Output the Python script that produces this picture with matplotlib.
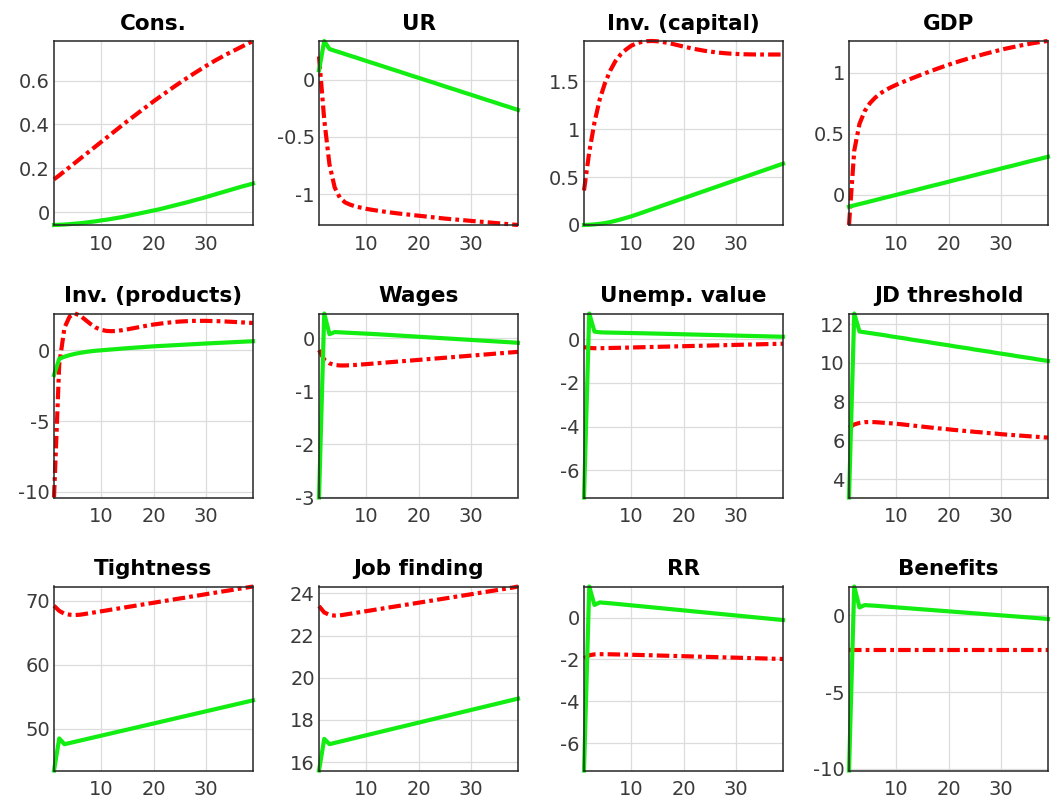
import matplotlib
matplotlib.use("Agg")
import matplotlib.pyplot as plt
from matplotlib.ticker import FixedLocator, FuncFormatter

plt.rcParams["font.family"] = ["DejaVu Sans"]
plt.rcParams["axes.unicode_minus"] = False

# horizon (quarters)
periods = list(range(1, 40))
xticks = [10, 20, 30]

titles = ["Cons.", "UR", "Inv. (capital)", "GDP",
          "Inv. (products)", "Wages", "Unemp. value", "JD threshold",
          "Tightness", "Job finding", "RR", "Benefits"]

# ---- impulse responses: red = dash-dot scenario, green = solid scenario ----
cons_red = [0.150, 0.168, 0.187, 0.206, 0.225, 0.244, 0.263, 0.282, 0.301, 0.320,
            0.339, 0.358, 0.377, 0.396, 0.415, 0.433, 0.451, 0.469, 0.487, 0.505,
            0.522, 0.539, 0.556, 0.573, 0.589, 0.605, 0.621, 0.636, 0.651, 0.666,
            0.680, 0.694, 0.707, 0.720, 0.732, 0.744, 0.756, 0.768, 0.780]
cons_green = [-0.058, -0.057, -0.056, -0.054, -0.052, -0.050, -0.047, -0.044, -0.041, -0.037,
              -0.034, -0.030, -0.026, -0.022, -0.017, -0.012, -0.007, -0.002, 0.003, 0.008,
              0.013, 0.019, 0.025, 0.031, 0.037, 0.043, 0.049, 0.056, 0.062, 0.069,
              0.076, 0.083, 0.090, 0.097, 0.104, 0.111, 0.118, 0.124, 0.131]

ur_red = [0.200, -0.350, -0.740, -0.940, -1.030, -1.070, -1.090, -1.105, -1.115, -1.125,
          -1.133, -1.140, -1.147, -1.153, -1.159, -1.165, -1.170, -1.175, -1.180, -1.185,
          -1.190, -1.195, -1.200, -1.205, -1.210, -1.214, -1.218, -1.222, -1.226, -1.230,
          -1.234, -1.238, -1.242, -1.246, -1.250, -1.254, -1.258, -1.262, -1.266]
ur_green = [0.080, 0.335, 0.265, 0.250, 0.236, 0.221, 0.206, 0.192, 0.177, 0.162,
            0.147, 0.133, 0.118, 0.103, 0.088, 0.074, 0.059, 0.044, 0.029, 0.015,
            0.000, -0.015, -0.029, -0.044, -0.059, -0.074, -0.088, -0.103, -0.118, -0.132,
            -0.147, -0.162, -0.177, -0.191, -0.206, -0.221, -0.235, -0.250, -0.265]

invk_red = [0.360, 0.760, 1.070, 1.310, 1.480, 1.610, 1.710, 1.780, 1.830, 1.870,
            1.895, 1.910, 1.918, 1.920, 1.917, 1.910, 1.900, 1.888, 1.875, 1.862,
            1.850, 1.838, 1.828, 1.818, 1.810, 1.803, 1.797, 1.792, 1.788, 1.785,
            1.783, 1.781, 1.780, 1.779, 1.779, 1.779, 1.779, 1.779, 1.779]
invk_green = [0.000, 0.002, 0.006, 0.012, 0.020, 0.031, 0.044, 0.058, 0.074, 0.090,
              0.108, 0.127, 0.146, 0.165, 0.184, 0.203, 0.222, 0.241, 0.260, 0.279,
              0.298, 0.317, 0.336, 0.355, 0.374, 0.393, 0.412, 0.431, 0.450, 0.469,
              0.488, 0.507, 0.526, 0.545, 0.564, 0.583, 0.602, 0.621, 0.640]

gdp_red = [-0.250, 0.360, 0.580, 0.685, 0.750, 0.795, 0.830, 0.858, 0.880, 0.900,
           0.918, 0.936, 0.953, 0.970, 0.987, 1.003, 1.019, 1.035, 1.050, 1.065,
           1.079, 1.093, 1.106, 1.119, 1.131, 1.143, 1.155, 1.166, 1.177, 1.188,
           1.198, 1.207, 1.216, 1.225, 1.233, 1.241, 1.248, 1.255, 1.260]
gdp_green = [-0.100, -0.089, -0.078, -0.068, -0.057, -0.046, -0.035, -0.024, -0.014, -0.003,
             0.008, 0.019, 0.029, 0.040, 0.051, 0.062, 0.073, 0.083, 0.094, 0.105,
             0.116, 0.127, 0.137, 0.148, 0.159, 0.170, 0.181, 0.191, 0.202, 0.213,
             0.224, 0.234, 0.245, 0.256, 0.267, 0.278, 0.288, 0.299, 0.310]

invp_red = [-10.40, -1.00, 1.60, 2.40, 2.60, 2.45, 2.15, 1.85, 1.60, 1.45,
            1.37, 1.35, 1.37, 1.42, 1.48, 1.55, 1.62, 1.69, 1.76, 1.82,
            1.87, 1.92, 1.96, 2.00, 2.03, 2.05, 2.07, 2.08, 2.08, 2.08,
            2.07, 2.06, 2.05, 2.03, 2.01, 1.99, 1.97, 1.95, 1.93]
invp_green = [-1.75, -0.60, -0.45, -0.34, -0.25, -0.18, -0.12, -0.07, -0.03, 0.00,
              0.03, 0.06, 0.09, 0.12, 0.15, 0.176, 0.202, 0.228, 0.254, 0.28,
              0.30, 0.32, 0.34, 0.36, 0.38, 0.40, 0.42, 0.44, 0.46, 0.48,
              0.498, 0.516, 0.534, 0.552, 0.57, 0.588, 0.606, 0.624, 0.64]

wage_red = [-0.220, -0.400, -0.470, -0.500, -0.510, -0.510, -0.505, -0.500, -0.492, -0.485,
            -0.477, -0.469, -0.461, -0.453, -0.445, -0.437, -0.429, -0.421, -0.413, -0.405,
            -0.397, -0.389, -0.381, -0.373, -0.365, -0.357, -0.349, -0.341, -0.333, -0.325,
            -0.317, -0.309, -0.301, -0.293, -0.285, -0.277, -0.269, -0.261, -0.253]
wage_green = [-3.000, 0.470, 0.080, 0.120, 0.115, 0.110, 0.105, 0.100, 0.095, 0.090,
              0.085, 0.080, 0.074, 0.068, 0.062, 0.056, 0.050, 0.044, 0.038, 0.032,
              0.026, 0.020, 0.014, 0.008, 0.002, -0.004, -0.010, -0.016, -0.022, -0.028,
              -0.034, -0.040, -0.046, -0.052, -0.058, -0.064, -0.070, -0.076, -0.082]

uval_red = [-0.360, -0.400, -0.410, -0.410, -0.405, -0.400, -0.395, -0.390, -0.384, -0.378,
            -0.372, -0.366, -0.360, -0.354, -0.348, -0.342, -0.336, -0.330, -0.324, -0.318,
            -0.312, -0.306, -0.300, -0.294, -0.288, -0.282, -0.276, -0.270, -0.264, -0.258,
            -0.252, -0.246, -0.240, -0.234, -0.228, -0.222, -0.216, -0.210, -0.204]
uval_green = [-7.250, 1.180, 0.350, 0.320, 0.310, 0.305, 0.300, 0.295, 0.290, 0.285,
              0.280, 0.275, 0.270, 0.264, 0.258, 0.252, 0.246, 0.240, 0.234, 0.228,
              0.222, 0.216, 0.210, 0.204, 0.198, 0.192, 0.186, 0.180, 0.174, 0.168,
              0.162, 0.156, 0.150, 0.144, 0.138, 0.132, 0.126, 0.120, 0.114]

jd_red = [6.65, 6.82, 6.90, 6.94, 6.95, 6.94, 6.92, 6.90, 6.88, 6.86,
          6.83, 6.80, 6.77, 6.74, 6.71, 6.68, 6.65, 6.62, 6.60, 6.57,
          6.54, 6.52, 6.49, 6.47, 6.44, 6.42, 6.39, 6.37, 6.35, 6.32,
          6.30, 6.28, 6.26, 6.24, 6.22, 6.20, 6.18, 6.16, 6.14]
jd_green = [3.05, 12.55, 11.62, 11.58, 11.54, 11.50, 11.46, 11.42, 11.37, 11.33,
            11.29, 11.25, 11.20, 11.16, 11.12, 11.08, 11.03, 10.99, 10.95, 10.91,
            10.86, 10.82, 10.78, 10.74, 10.69, 10.65, 10.61, 10.57, 10.52, 10.48,
            10.44, 10.40, 10.35, 10.31, 10.27, 10.23, 10.18, 10.14, 10.10]

tight_red = [69.20, 68.40, 67.95, 67.80, 67.75, 67.80, 67.93, 68.06, 68.20, 68.33,
             68.46, 68.60, 68.73, 68.86, 69.00, 69.13, 69.26, 69.40, 69.53, 69.66,
             69.80, 69.93, 70.06, 70.20, 70.33, 70.46, 70.60, 70.73, 70.86, 71.00,
             71.13, 71.26, 71.40, 71.53, 71.66, 71.80, 71.93, 72.06, 72.20]
tight_green = [43.50, 48.50, 47.60, 47.79, 47.98, 48.17, 48.36, 48.55, 48.74, 48.93,
               49.12, 49.31, 49.50, 49.69, 49.88, 50.07, 50.26, 50.45, 50.64, 50.83,
               51.02, 51.21, 51.40, 51.59, 51.78, 51.97, 52.16, 52.35, 52.54, 52.73,
               52.92, 53.11, 53.30, 53.49, 53.68, 53.87, 54.06, 54.25, 54.44]

jf_red = [23.40, 23.10, 22.98, 22.95, 22.96, 23.00, 23.04, 23.08, 23.12, 23.16,
          23.20, 23.24, 23.28, 23.32, 23.36, 23.40, 23.44, 23.48, 23.52, 23.56,
          23.60, 23.64, 23.68, 23.72, 23.76, 23.80, 23.84, 23.88, 23.92, 23.96,
          24.00, 24.04, 24.08, 24.12, 24.16, 24.20, 24.24, 24.28, 24.33]
jf_green = [15.60, 17.10, 16.85, 16.91, 16.97, 17.03, 17.09, 17.15, 17.21, 17.27,
            17.33, 17.39, 17.45, 17.51, 17.57, 17.63, 17.69, 17.75, 17.81, 17.87,
            17.93, 17.99, 18.05, 18.11, 18.17, 18.23, 18.29, 18.35, 18.41, 18.47,
            18.53, 18.59, 18.65, 18.71, 18.77, 18.83, 18.89, 18.95, 19.01]

rr_red = [-1.950, -1.800, -1.760, -1.750, -1.750, -1.755, -1.760, -1.766, -1.772, -1.778,
          -1.784, -1.790, -1.797, -1.804, -1.811, -1.818, -1.825, -1.832, -1.839, -1.846,
          -1.853, -1.860, -1.867, -1.874, -1.881, -1.888, -1.895, -1.902, -1.909, -1.916,
          -1.923, -1.930, -1.937, -1.944, -1.951, -1.958, -1.965, -1.972, -1.980]
rr_green = [-7.300, 1.480, 0.600, 0.720, 0.700, 0.680, 0.656, 0.632, 0.607, 0.583,
            0.559, 0.535, 0.510, 0.486, 0.462, 0.438, 0.413, 0.389, 0.365, 0.341,
            0.316, 0.292, 0.268, 0.244, 0.219, 0.195, 0.171, 0.147, 0.122, 0.098,
            0.074, 0.050, 0.025, 0.001, -0.023, -0.047, -0.072, -0.096, -0.120]

ben_red = [-2.25, -2.25, -2.25, -2.25, -2.25, -2.25, -2.25, -2.25, -2.25, -2.25,
           -2.25, -2.25, -2.25, -2.25, -2.25, -2.25, -2.25, -2.25, -2.25, -2.25,
           -2.25, -2.25, -2.25, -2.25, -2.25, -2.25, -2.25, -2.25, -2.25, -2.25,
           -2.25, -2.25, -2.25, -2.25, -2.25, -2.25, -2.25, -2.25, -2.25]
ben_green = [-10.10, 1.860, 0.500, 0.650, 0.630, 0.610, 0.584, 0.558, 0.532, 0.506,
             0.480, 0.454, 0.428, 0.402, 0.376, 0.350, 0.324, 0.298, 0.272, 0.246,
             0.220, 0.194, 0.168, 0.142, 0.116, 0.090, 0.064, 0.038, 0.012, -0.014,
             -0.040, -0.066, -0.092, -0.118, -0.144, -0.170, -0.196, -0.222, -0.248]

red_series = [cons_red, ur_red, invk_red, gdp_red, invp_red, wage_red,
              uval_red, jd_red, tight_red, jf_red, rr_red, ben_red]
green_series = [cons_green, ur_green, invk_green, gdp_green, invp_green, wage_green,
                uval_green, jd_green, tight_green, jf_green, rr_green, ben_green]

yticks = [[0, 0.2, 0.4, 0.6], [-1, -0.5, 0], [0, 0.5, 1, 1.5], [0, 0.5, 1],
          [-10, -5, 0], [-3, -2, -1, 0], [-6, -4, -2, 0], [4, 6, 8, 10, 12],
          [50, 60, 70], [16, 18, 20, 22, 24], [-6, -4, -2, 0], [-10, -5, 0]]

# ---- figure layout (pixels) ----
W, H = 1056, 802
col_left = [54, 319, 584, 849]
row_top = [41, 313.5, 586.5]
ax_w, ax_h = 199, 184

fig = plt.figure(figsize=(W / 100, H / 100), dpi=100)
fig.patch.set_facecolor("white")

RED = (1.0, 0.0, 0.0)
GREEN = (0.07, 0.93, 0.07)
TICK_COLOR = "#3a3a3a"

fmt = FuncFormatter(lambda v, _: f"{v:g}")

for i, title in enumerate(titles):
    r, c = divmod(i, 4)
    left = col_left[c] / W
    bottom = (H - row_top[r] - ax_h) / H
    ax = fig.add_axes([left, bottom, ax_w / W, ax_h / H])

    red = red_series[i]
    green = green_series[i]
    ax.plot(periods, red, color=RED, lw=3.0, dashes=(3.0, 1.0, 0.9, 1.0),
            solid_joinstyle="round", dash_joinstyle="round", clip_on=False, zorder=3)
    ax.plot(periods, green, color=GREEN, lw=3.0, solid_joinstyle="round",
            clip_on=False, zorder=4)

    lo = min(min(red), min(green))
    hi = max(max(red), max(green))
    ax.set_xlim(periods[0], periods[-1])
    ax.set_ylim(lo, hi)

    ax.xaxis.set_major_locator(FixedLocator(xticks))
    ax.yaxis.set_major_locator(FixedLocator(yticks[i]))
    ax.yaxis.set_major_formatter(fmt)
    ax.grid(True, color="#dcdcdc", lw=0.9)
    ax.set_axisbelow(True)
    ax.tick_params(axis="both", length=0, labelsize=14, colors=TICK_COLOR)
    ax.tick_params(axis="y", pad=3)
    ax.tick_params(axis="x", pad=7)
    for sp in ax.spines.values():
        sp.set_color("#262626")
        sp.set_linewidth(1.1)
        sp.set_zorder(5)
    ax.set_title(title, fontsize=15.5, fontweight="bold", pad=8, color="black")

fig.savefig("out.png", dpi=100, facecolor="white")
